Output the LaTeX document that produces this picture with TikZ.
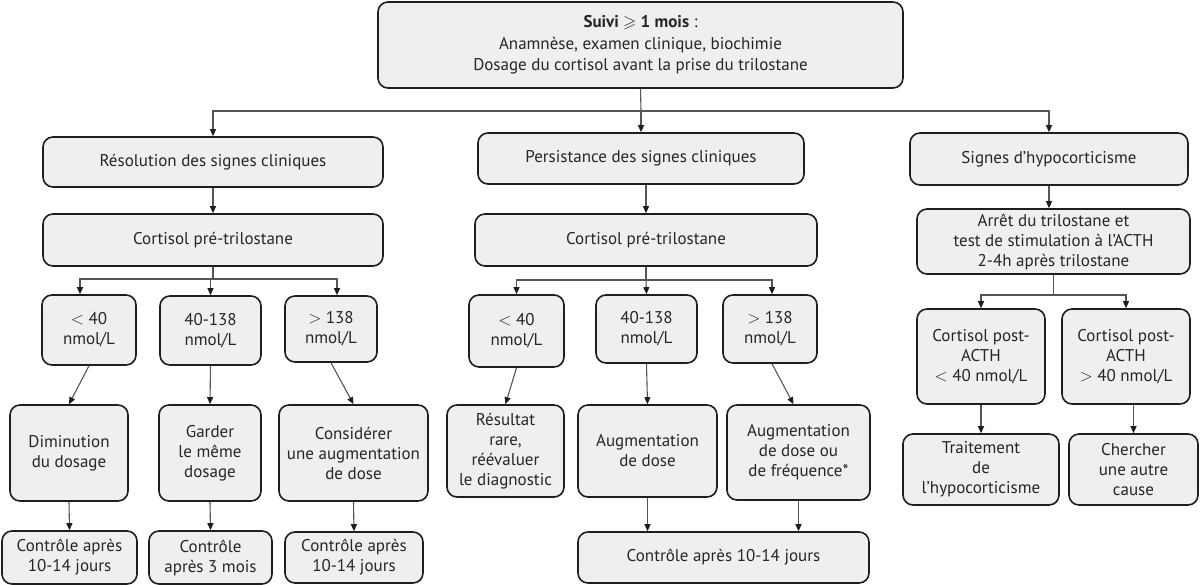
\documentclass[tikz,border=0pt]{standalone}
\usepackage{amssymb}
\usepackage{fontspec}
\setmainfont{PT Sans}
\usetikzlibrary{arrows.meta}
\definecolor{boxfill}{HTML}{EFEFEF}
\definecolor{boxline}{HTML}{1E1E1E}
\definecolor{conncol}{HTML}{555555}
\tikzset{
  box/.style={draw=boxline, fill=boxfill, line width=1.6pt, rounded corners=10pt,
    align=center, inner sep=1pt, text=black!85,
    font=\fontsize{17}{20}\selectfont},
  conn/.style={draw=conncol, line width=1.1pt},
  arr/.style={conn, -{Triangle[length=7pt,width=6pt,fill=boxline,color=boxline]}}
}
\newcommand\pbox[6]{%
  \node[box, minimum width={#3pt-#2pt}, minimum height={#5pt-#4pt}] (#1)
    at ({(#2+#3)/2},{(#4+#5)/2}) {#6};}
\begin{document}
\begin{tikzpicture}[x=1pt,y=-1pt]
\useasboundingbox (0,0) rectangle (1200,585);
% top
\node[box, minimum width=525pt, minimum height=86pt, font=\fontsize{17}{21.5}\selectfont] (top) at (640.5,45)
  {\textbf{Suivi $\geqslant$ 1 mois} :\\ Anamnèse, examen clinique, biochimie\\ Dosage du cortisol avant la prise du trilostane};
% row 2
\pbox{r2a}{43}{383}{137}{187}{Résolution des signes cliniques}
\pbox{r2b}{478}{804}{133}{184}{Persistance des signes cliniques}
\pbox{r2c}{910}{1188}{133}{185}{Signes d’hypocorticisme}
% row 3
\pbox{r3a}{43}{383}{214}{266}{Cortisol pré-trilostane}
\pbox{r3b}{475}{817}{214}{266}{Cortisol pré-trilostane}
\pbox{r3c}{917}{1190}{209}{274}{Arrêt du trilostane et\\ test de stimulation à l’ACTH\\ 2-4h après trilostane}
% left group
\pbox{a1}{42}{136}{295}{365}{$<$ 40\\ nmol/L}
\pbox{a2}{160}{261}{296}{365}{40-138\\ nmol/L}
\pbox{a3}{285}{377}{296}{362}{$>$ 138\\ nmol/L}
\pbox{a4}{10}{128}{405}{501}{Diminution\\ du dosage}
\pbox{a5}{159}{261}{405}{501}{Garder\\ le même\\ dosage}
\pbox{a6}{279}{428}{405}{501}{Considérer\\ une augmentation\\ de dose}
\pbox{a7}{2}{137}{531}{584}{Contrôle après\\ 10-14 jours}
\pbox{a8}{149}{272}{531}{584}{Contrôle\\ après 3 mois}
\pbox{a9}{285}{423}{532}{583}{Contrôle après\\ 10-14 jours}
% middle group
\pbox{b1}{469}{564}{295}{367}{$<$ 40\\ nmol/L}
\pbox{b2}{596}{697}{295}{363}{40-138\\ nmol/L}
\pbox{b3}{723}{817}{295}{363}{$>$ 138\\ nmol/L}
\pbox{b4}{447}{564}{405}{497}{Résultat\\ rare,\\ réévaluer\\ le diagnostic}
\pbox{b5}{578}{717}{405}{497}{Augmentation\\ de dose}
\pbox{b6}{727}{870}{405}{500}{Augmentation\\ de dose ou\\ de fréquence*}
\pbox{b7}{578}{869}{532}{583}{Contrôle après 10-14 jours}
% right group
\pbox{c1}{917}{1045}{309}{404}{Cortisol post-\\ ACTH\\ $<$ 40 nmol/L}
\pbox{c2}{1062}{1190}{309}{404}{Cortisol post-\\ ACTH\\ $>$ 40 nmol/L}
\pbox{c3}{903}{1059}{434}{505}{Traitement\\ de\\ l’hypocorticisme}
\pbox{c4}{1069}{1198}{434}{505}{Chercher\\ une autre\\ cause}
% connectors: top
\coordinate (j0) at (641,111);
\draw[conn] (top.south) -- (j0);
\draw[arr] (j0) -| (r2a.north);
\draw[arr] (j0) -- (r2b.north);
\draw[arr] (j0) -| (r2c.north);
% row2 -> row3
\draw[arr] (r2a.south) -- (r3a.north);
\draw[arr] (r3b.north |- r2b.south) -- (r3b.north);
\draw[arr] (r2c.south) -- (r2c.south |- r3c.north);
% left branch
\coordinate (ja) at (213,279);
\draw[conn] (r3a.south) -- (ja);
\draw[arr] (ja) -| ([xshift=-9pt]a1.north);
\draw[arr] (ja) -| (a2.north);
\draw[arr] (ja) -| ([xshift=6pt]a3.north);
% middle branch
\coordinate (jb) at (646,280);
\draw[conn] (r3b.south) -- (jb);
\draw[arr] (jb) -| (b1.north);
\draw[arr] (jb) -- (b2.north);
\draw[arr] (jb) -| ([xshift=2pt]b3.north);
% right branch
\coordinate (jc) at (1053.5,295);
\draw[conn] (r3c.south) -- (jc);
\draw[arr] (jc) -| (c1.north);
\draw[arr] (jc) -| (c2.north);
% row4 -> row5
\draw[arr] (a1.south) -- (a4.north);
\draw[arr] (a2.south) -- (a5.north);
\draw[arr] (a3.south) -- (a6.north);
\draw[arr] (b1.south) -- (b4.north);
\draw[arr] (b2.south) -- (b5.north);
\draw[arr] ([xshift=2pt]b3.south) -- ([xshift=-5pt]b6.north);
\draw[arr] (c1.south) -- (c3.north);
\draw[arr] (c4.north |- c2.south) -- (c4.north);
% row5 -> row6
\draw[arr] (a4.south) -- (a7.north);
\draw[arr] (a5.south) -- (a8.north);
\draw[arr] (a6.south) -- (a9.north);
\draw[arr] (b5.south) -- (b5.south |- b7.north);
\draw[arr] (b6.south) -- (b6.south |- b7.north);
\end{tikzpicture}
\end{document}
